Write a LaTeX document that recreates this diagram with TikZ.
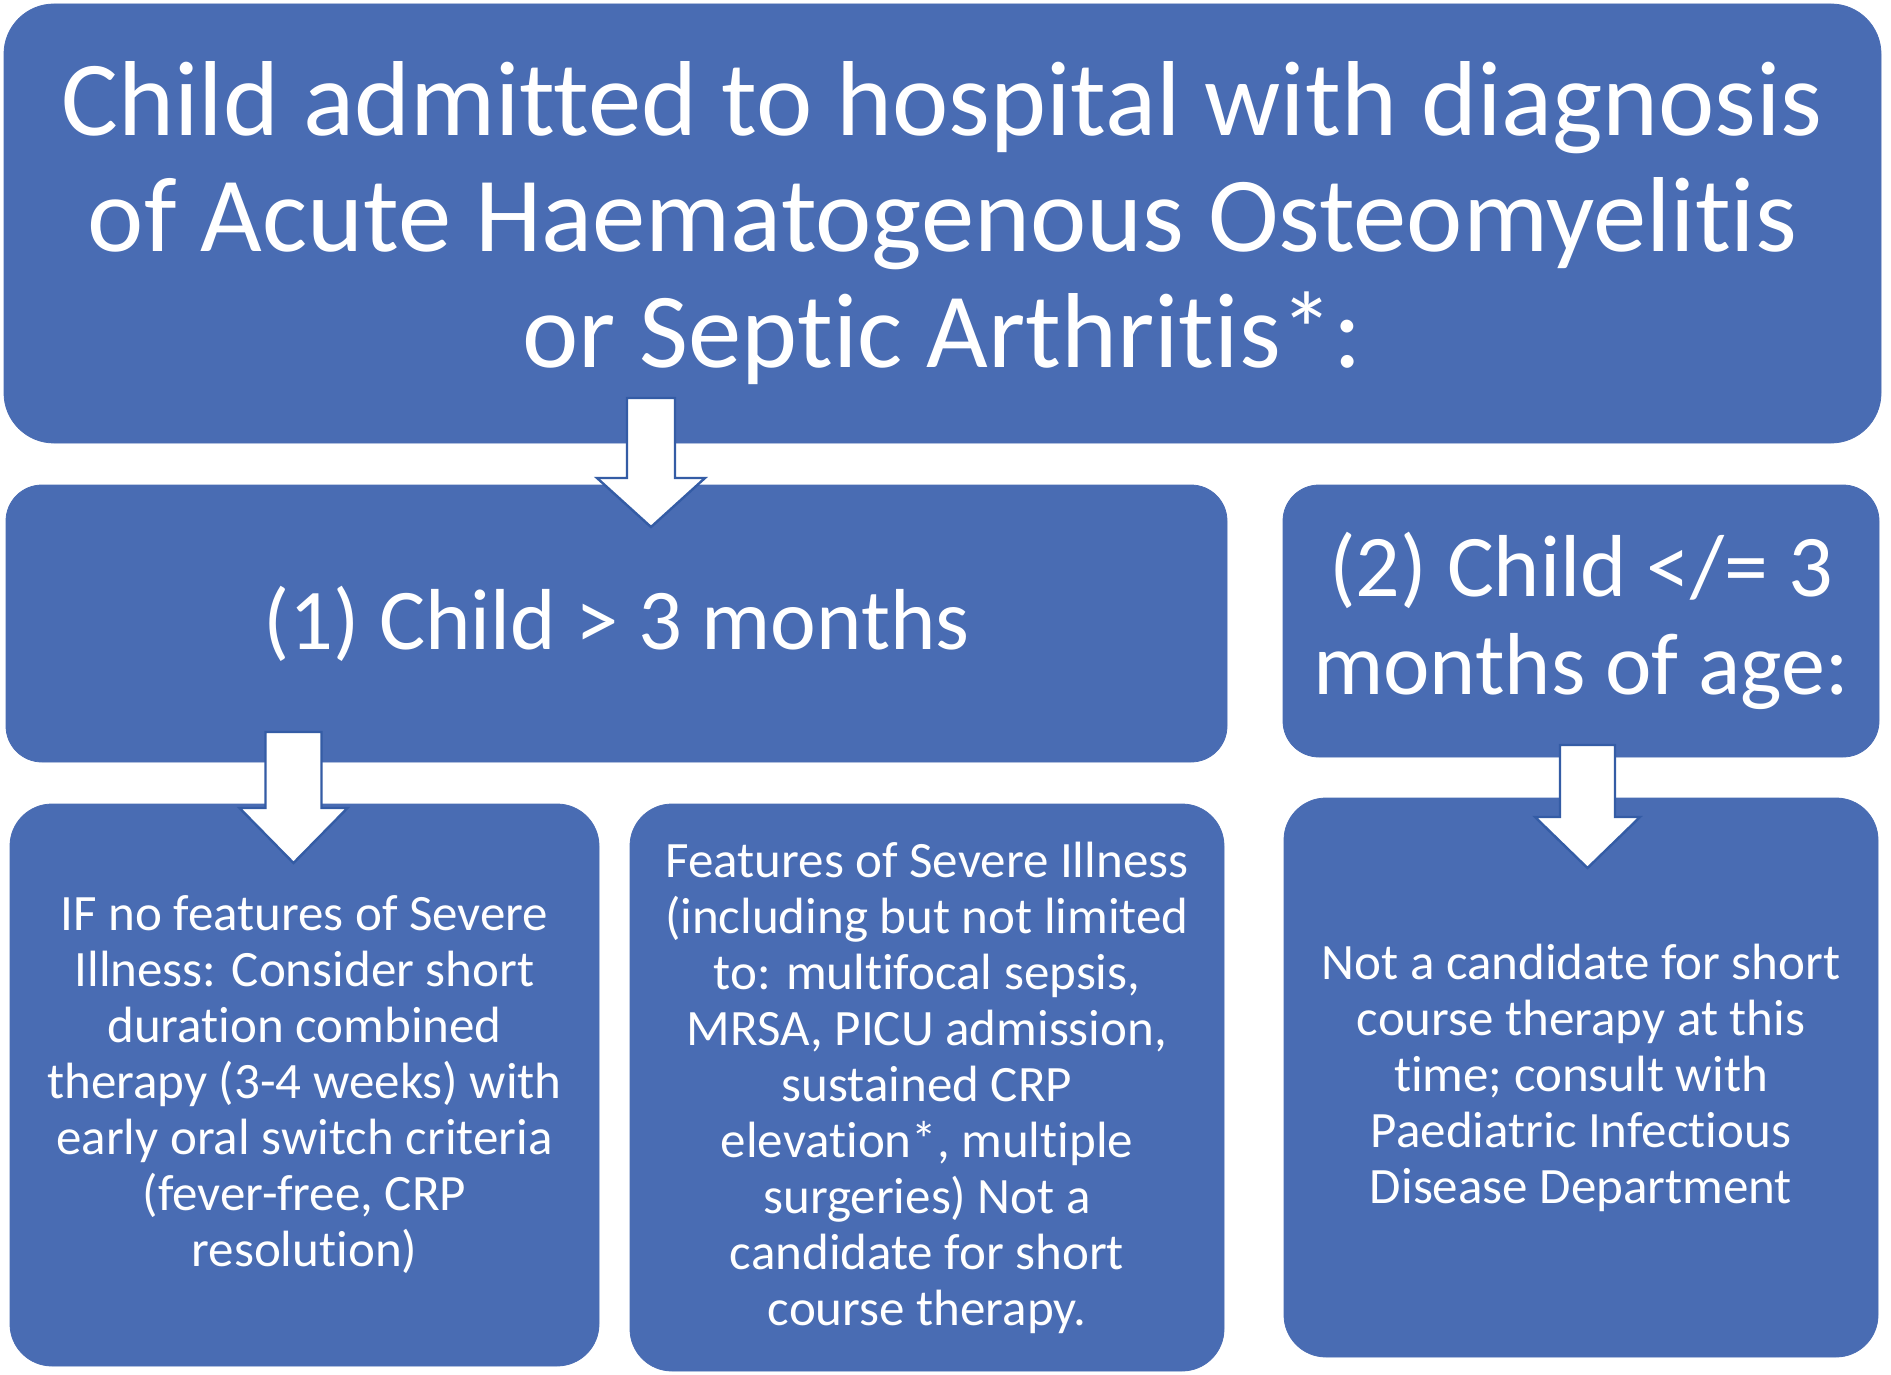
\documentclass[tikz,border=0pt]{standalone}
\usepackage{fontspec}
\setmainfont{Carlito}[Ligatures=NoCommon]
\usetikzlibrary{calc}
\definecolor{boxblue}{RGB}{73,108,179}
\definecolor{arrowline}{RGB}{52,92,165}
\newcommand{\flowarrow}[6]{% cx, top, base, tip, shaft half, head half
  \draw[arrowstyle] (#1-#5,#2) -- (#1+#5,#2) -- (#1+#5,#3) -- (#1+#6,#3) -- (#1,#4) -- (#1-#6,#3) -- (#1-#5,#3) -- cycle;}
\begin{document}
\begin{tikzpicture}[x=0.5pt,y=-0.5pt,
  box/.style={fill=boxblue, draw=boxblue, text=white, align=center, inner sep=0pt},
  arrowstyle/.style={fill=white, draw=arrowline, line width=1.2pt, line join=miter}]
\useasboundingbox (0,0) rectangle (1891,1375);
\fill[white] (0,0) rectangle (1891,1375);
\node[box, rounded corners=25pt, minimum width=938.5pt, minimum height=219.5pt,
  font=\fontsize{53.3}{58}\selectfont] (top) at (942.5,223.5)
  {Child admitted to hospital with diagnosis\\of Acute Haematogenous Osteomyelitis\\or Septic Arthritis*:};
\node[box, rounded corners=18pt, minimum width=610.5pt, minimum height=138.5pt,
  font=\fontsize{43.3}{52}\selectfont] (one) at (616.5,623.5)
  {(1) Child > 3 months};
\node[box, rounded corners=18pt, minimum width=298pt, minimum height=136pt,
  font=\fontsize{44}{49}\selectfont] (two) at (1581,621)
  {(2) Child </= 3\\months of age:};
\node[box, rounded corners=21pt, minimum width=294.5pt, minimum height=281pt,
  font=\fontsize{25.5}{28}\selectfont] (bl) at (304.5,1085)
  {IF no features of Severe\\Illness: Consider short\\duration combined\\therapy (3-4 weeks) with\\early oral switch criteria\\(fever-free, CRP\\resolution)};
\node[box, rounded corners=21pt, minimum width=297pt, minimum height=283.5pt,
  font=\fontsize{25.5}{28}\selectfont] (bm) at (927,1087.5)
  {Features of Severe Illness\\(including but not limited\\to: multifocal sepsis,\\MRSA, PICU admission,\\sustained CRP\\elevation*, multiple\\surgeries) Not a\\candidate for short\\course therapy.};
\node[box, rounded corners=21pt, minimum width=297pt, minimum height=279.5pt,
  font=\fontsize{25.5}{28}\selectfont] (br) at (1581,1077.5)
  {Not a candidate for short\\course therapy at this\\time; consult with\\Paediatric Infectious\\Disease Department};
\flowarrow{651}{398}{478}{527}{24}{54}
\flowarrow{293.5}{732}{808}{863}{28}{54}
\flowarrow{1587.5}{745}{817}{868}{27.5}{52.5}
\end{tikzpicture}
\end{document}
